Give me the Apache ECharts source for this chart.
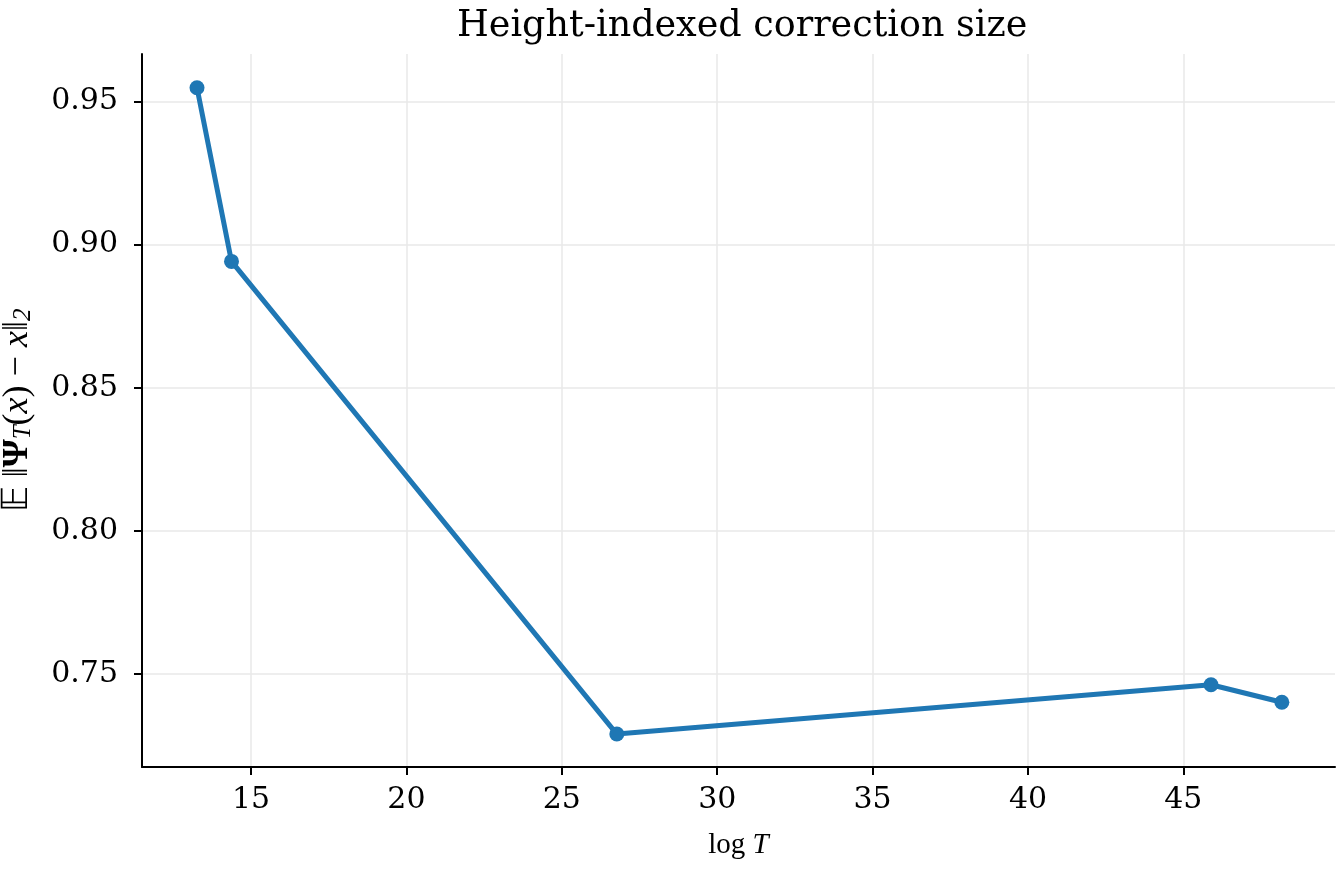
<!DOCTYPE html>
<html><head><meta charset="utf-8">
<script src="https://cdn.jsdelivr.net/npm/echarts@6/dist/echarts.min.js"></script>
<style>html,body{margin:0;padding:0;background:#fff}#c{width:1343px;height:872px}</style>
</head><body><div id="c"></div>
<script>
const logT = [13.26, 14.37, 26.77, 45.89, 48.17];
const correction = [0.9547, 0.8941, 0.7291, 0.7463, 0.7402];
const xTicks = [15, 20, 25, 30, 35, 40, 45];
const yTicks = [0.75, 0.80, 0.85, 0.90, 0.95];
const titleText = 'Height-indexed correction size';

const F = 'DejaVu Serif';
const M = 'Liberation Serif';
const chart = echarts.init(document.getElementById('c'), null, {renderer: 'canvas'});
chart.setOption({
  animation: false,
  title: {text: titleText, left: 452, top: 3, textStyle: {fontFamily: F, fontWeight: 'normal', fontSize: 36.5, color: '#000'}},
  grid: {left: 142, right: 8, top: 54, bottom: 105, containLabel: false, outerBoundsMode: 'none'},
  xAxis: {
    type: 'value', min: 11.49, max: 49.88,
    name: '{r|log }{i|T}', nameLocation: 'middle', nameGap: 64,
    nameTextStyle: {rich: {r: {fontFamily: M, fontSize: 29, color: '#000'}, i: {fontFamily: M, fontStyle: 'italic', fontSize: 29, color: '#000'}}},
    axisLine: {lineStyle: {color: '#000', width: 2}},
    axisTick: {show: true, inside: false, length: 8, lineStyle: {color: '#000', width: 2}, customValues: xTicks},
    axisLabel: {fontFamily: F, fontSize: 30, color: '#000', margin: 18, customValues: xTicks, formatter: v => String(v)},
    splitLine: {show: true, lineStyle: {color: '#e8e8e8', width: 1.5}},
    interval: 5
  },
  yAxis: {
    type: 'value', min: 0.7176, max: 0.9665,
    name: '{r|𝔼 ‖}{b|Ψ}{s|T}{r|(}{i|x}{r|) − }{i|x}{r|‖}{s|2}', nameLocation: 'middle', nameGap: 106, nameRotate: 90,
    nameTextStyle: {rich: {
      r: {fontFamily: M, fontSize: 36, color: '#000'},
      b: {fontFamily: M, fontWeight: 'bold', fontSize: 36, color: '#000'},
      i: {fontFamily: M, fontStyle: 'italic', fontSize: 36, color: '#000'},
      s: {fontFamily: M, fontStyle: 'italic', fontSize: 25, color: '#000', verticalAlign: 'bottom', padding: [12, 0, 0, 0]}
    }},
    axisLine: {show: true, lineStyle: {color: '#000', width: 2}},
    axisTick: {show: true, inside: false, length: 8, lineStyle: {color: '#000', width: 2}, customValues: yTicks},
    axisLabel: {fontFamily: F, fontSize: 30, color: '#000', margin: 24, customValues: yTicks, formatter: v => v.toFixed(2)},
    splitLine: {show: true, lineStyle: {color: '#e8e8e8', width: 1.5}},
    interval: 0.05
  },
  series: [{
    type: 'line', data: logT.map((x, i) => [x, correction[i]]),
    symbol: 'circle', symbolSize: 15, showSymbol: true,
    lineStyle: {color: '#1f77b4', width: 5}, itemStyle: {color: '#1f77b4'}
  }]
});
</script></body></html>
